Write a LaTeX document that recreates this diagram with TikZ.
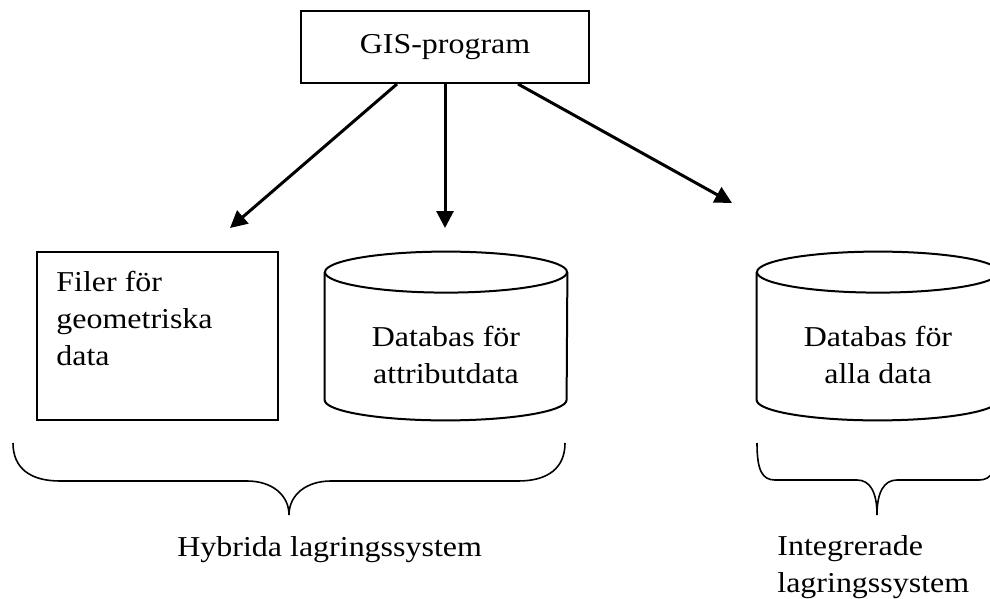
\documentclass[tikz,border=0pt]{standalone}
\usepackage{fontspec}
\setmainfont[FakeStretch=1.11]{Liberation Serif}
\usetikzlibrary{shapes.geometric,arrows.meta,positioning}
\tikzstyle{box} = [rectangle, draw, line width=1pt, inner sep=0pt]
\tikzstyle{dbframe} = [rectangle, minimum width=121pt, minimum height=84pt, inner sep=0pt]
\tikzstyle{dbline} = [draw, line width=1pt]
\tikzstyle{txt} = [inner sep=0pt, font=\fontsize{14.4}{18.5}\selectfont]
\tikzstyle{line} = [draw, line width=1.5pt, -{Triangle[length=8.5pt,width=8.5pt]}]
\tikzstyle{brace} = [draw, line width=0.8pt]

\begin{document}
\begin{tikzpicture}[x=0.5pt,y=-0.5pt]
      \useasboundingbox (0,0) rectangle (990,599);
      \node [box, txt, minimum width=144pt, minimum height=36pt] (gis) at (445,47) {GIS-program};

      \node [box, minimum width=120.5pt, minimum height=84pt] (geo) at (157.5,336) {};
      \node [txt, align=left, anchor=north west] (geotxt) at ([xshift=10pt,yshift=-10pt]geo.north west) {Filer för\\geometriska\\data};

      \node [dbframe] (attrdb) at (446,336) {};
      \node [dbframe] (alldb) at (878,336) {};
      % cylindrar
      \foreach \db in {attrdb,alldb} {
        \draw [dbline] ([yshift=-10.25pt]\db.north) ellipse [x radius=60.5pt, y radius=10.25pt];
        \draw [dbline] ([yshift=-10.25pt]\db.north west) -- ([yshift=10.25pt]\db.south west)
            arc [start angle=180, end angle=360, x radius=60.5pt, y radius=10.25pt]
            -- ([yshift=-10.25pt]\db.north east);
      }
      \node [txt, align=center, anchor=north] (attrtxt) at ([yshift=5.3pt]attrdb.center) {Databas för\\attributdata};
      \node [txt, align=center, anchor=north] (alltxt) at ([yshift=5.3pt]alldb.center) {Databas för\\alla data};

      \coordinate (tipgeo) at (230,228);
      \coordinate (tipattr) at (445,228);
      \coordinate (tipall) at (732,203);
      \path [line] ([xshift=-24pt]gis.south) -- (tipgeo);
      \path [line] (gis.south) -- (tipattr);
      \path [line] ([xshift=36.5pt]gis.south) -- (tipall);

      % klamrar
      \draw [brace] (13,443) .. controls (13,468) and (30,481) .. (60,481) -- (247,481)
          .. controls (272,481) and (289,495) .. (289,515) .. controls (289,495) and (306,481) .. (331,481)
          -- (518,481) .. controls (548,481) and (565,468) .. (565,443);
      \draw [brace] (757,443) .. controls (757,470) and (762,480) .. (775,480) -- (857,480)
          .. controls (870,480) and (877,492) .. (877,515) .. controls (877,492) and (884,480) .. (897,480)
          -- (979,480) .. controls (992,480) and (997,470) .. (997,443);

      \node [txt, anchor=base west] (hybrid) at (177,556) {Hybrida lagringssystem};
      \node [txt, align=left, anchor=north west] (integ) at (777,535) {Integrerade\\lagringssystem};
\end{tikzpicture}
\end{document}
